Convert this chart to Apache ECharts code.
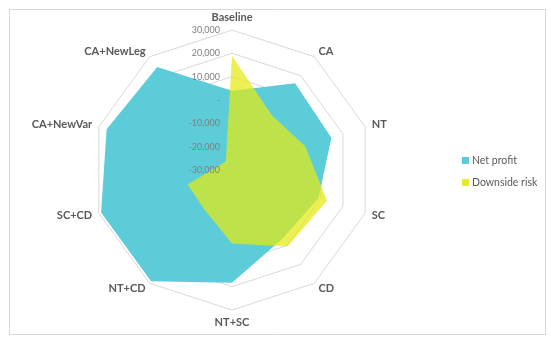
<!DOCTYPE html>
<html>
<head>
<meta charset="utf-8">
<script src="https://cdn.jsdelivr.net/npm/echarts@6/dist/echarts.min.js"></script>
<style>
html,body{margin:0;padding:0;background:#fff;}
#chart{width:550px;height:341px;}
</style>
</head>
<body>
<div id="chart"></div>
<script>
// Data (clockwise from top, as in the reference)
const categories = ['Baseline','CA','NT','SC','CD','NT+SC','NT+CD','SC+CD','CA+NewVar','CA+NewLeg'];
const netProfit = [4000, 16000, 14800, 9000, 6600, 18300, 29000, 29000, 26500, 24500];
const downsideRisk = [19000, -1000, 3000, 12800, 10500, 1500, -9500, -10000, -24000, -25500];
const seriesNames = ['Net profit', 'Downside risk'];
const axisMin = -30000, axisMax = 30000, axisStep = 10000;

// ECharts radar runs counter-clockwise; reorder so it reads clockwise
function cw(arr){ return [arr[0]].concat(arr.slice(1).reverse()); }

const labelFont = 'Lato, "Open Sans", sans-serif';
function makeIndicators(withLabel) {
  return cw(categories).map((name, i) => {
    const o = { name: name, min: axisMin, max: axisMax };
    if (withLabel && i === 0) o.axisLabel = { show: true };
    return o;
  });
}
const tickFormatter = function (v) {
  if (v === 0) return '-';
  return (v < 0 ? '-' : '') + Math.abs(v).toLocaleString('en-US');
};

const radarBase = {
  center: [232, 170],
  radius: 140,
  shape: 'polygon',
  splitNumber: (axisMax - axisMin) / axisStep,
  axisLine: { show: false },
  axisTick: { show: false },
  splitArea: { show: false }
};

const chart = echarts.init(document.getElementById('chart'), null, {renderer:'canvas'});
chart.setOption({
  animation: false,
  backgroundColor: '#fff',
  graphic: [{
    type: 'rect', left: 7, top: 7,
    shape: { width: 536, height: 325 },
    style: { fill: 'none', stroke: '#d9d9d9', lineWidth: 1 }
  }],
  legend: {
    orient: 'vertical',
    left: 457, top: 150,
    itemWidth: 7, itemHeight: 7, itemGap: 11,
    icon: 'rect',
    textStyle: { color: '#595959', fontSize: 10.5, fontFamily: labelFont, padding: [0,0,0,-2] },
    data: seriesNames
  },
  radar: [
    Object.assign({}, radarBase, {
      z: 1,
      indicator: makeIndicators(false),
      nameGap: 7,
      axisName: { color: '#595959', fontSize: 11, fontWeight: 'bold', fontFamily: labelFont },
      splitLine: { lineStyle: { color: '#d9d9d9', width: 1 } },
      axisLabel: { show: false }
    }),
    Object.assign({}, radarBase, {
      z: 10,
      indicator: makeIndicators(true),
      axisName: { show: false },
      splitLine: { show: false },
      axisLabel: {
        show: false,
        color: '#7f7f7f', fontSize: 9, fontFamily: labelFont,
        margin: 12,
        formatter: tickFormatter
      }
    })
  ],
  series: [{
    type: 'radar',
    radarIndex: 0,
    symbol: 'none',
    z: 2,
    data: [{
      name: seriesNames[0],
      value: cw(netProfit),
      lineStyle: { width: 0, color: '#5ccdd8' },
      itemStyle: { color: '#5ccdd8' },
      areaStyle: { color: '#5ccdd8', opacity: 1 }
    }]
  }, {
    type: 'radar',
    radarIndex: 0,
    symbol: 'none',
    z: 3,
    data: [{
      name: seriesNames[1],
      value: cw(downsideRisk),
      lineStyle: { width: 0, color: '#e6ec2a' },
      itemStyle: { color: '#e6ec2a' },
      areaStyle: { color: 'rgba(228,234,20,0.72)', opacity: 1 }
    }]
  }]
});
</script>
</body>
</html>
